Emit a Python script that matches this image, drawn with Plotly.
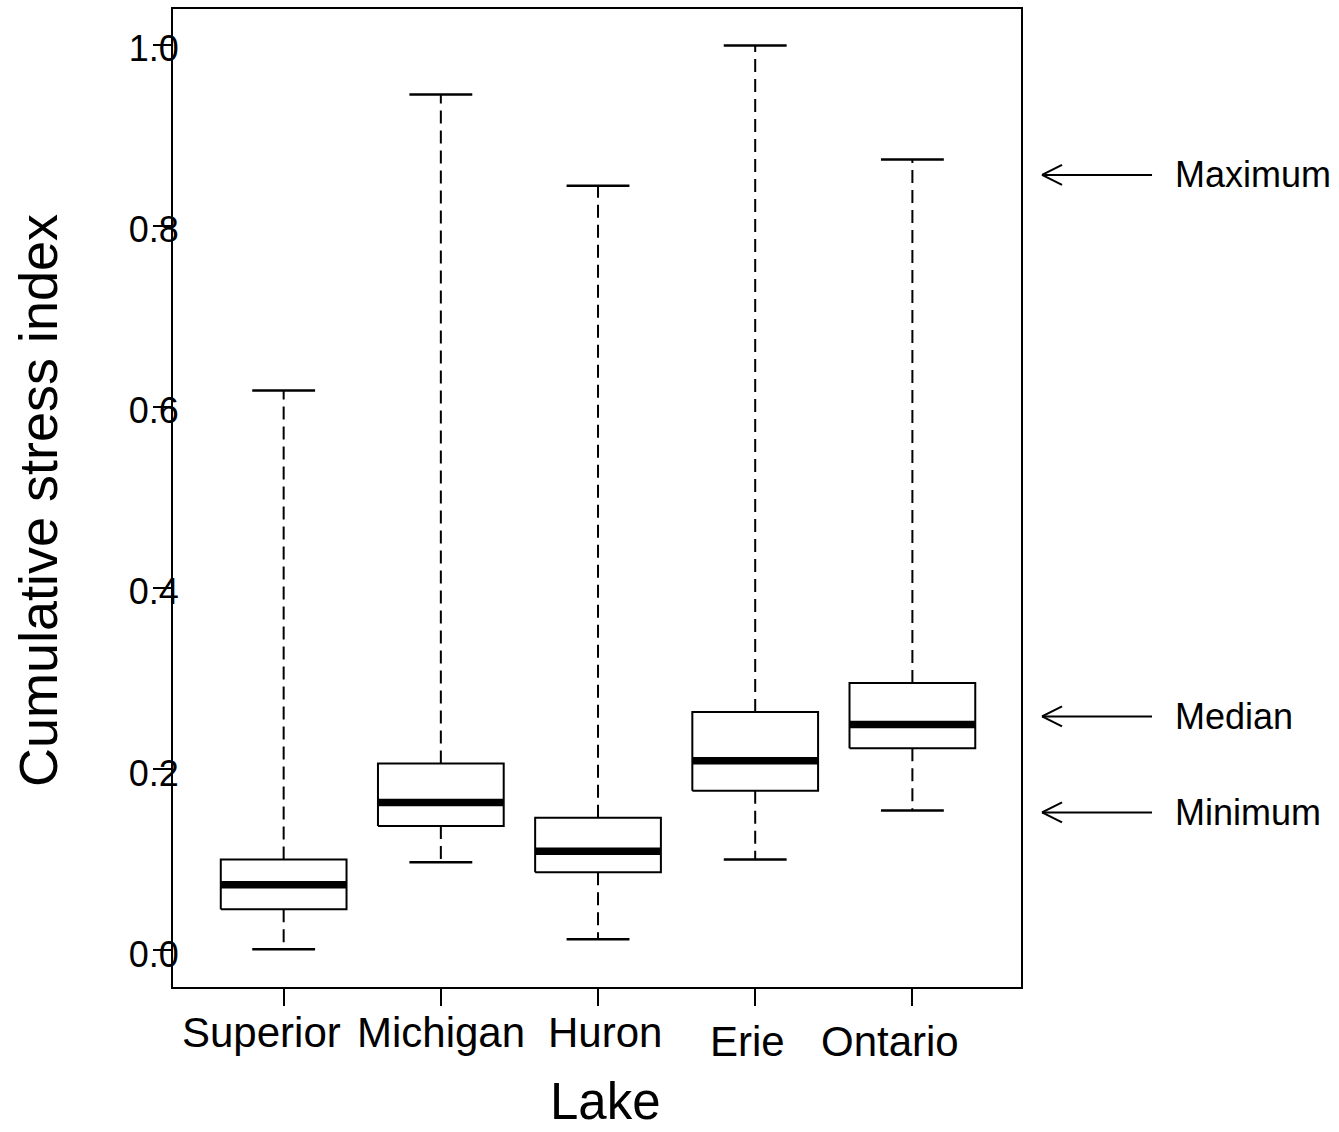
import plotly.graph_objects as go

# Cumulative stress index summary per lake (whisker ends, quartiles, median)
lakes = ["Superior", "Michigan", "Huron", "Erie", "Ontario"]
whisker_min = [0.001, 0.097, 0.012, 0.100, 0.154]
q1 = [0.045, 0.137, 0.086, 0.176, 0.223]
median = [0.072, 0.163, 0.109, 0.209, 0.249]
q3 = [0.100, 0.206, 0.146, 0.263, 0.295]
whisker_max = [0.618, 0.945, 0.844, 0.999, 0.873]

ytick_vals = [0.0, 0.2, 0.4, 0.6, 0.8, 1.0]
ytick_text = ["0.0", "0.2", "0.4", "0.6", "0.8", "1.0"]

# Key on the right: label and the level its arrow points at
key_labels = ["Maximum", "Median", "Minimum"]
key_levels = [0.856, 0.258, 0.152]

FONT = "Liberation Sans, Arial, Helvetica, sans-serif"
BOX_HALF = 0.4
CAP_HALF = 0.2

xpos = list(range(1, len(lakes) + 1))

box_x, box_y = [], []
med_x, med_y = [], []
wh_x, wh_y = [], []
cap_x, cap_y = [], []
for x, lo, a, m, b, hi in zip(xpos, whisker_min, q1, median, q3, whisker_max):
    box_x += [x - BOX_HALF, x + BOX_HALF, x + BOX_HALF, x - BOX_HALF, x - BOX_HALF, None]
    box_y += [a, a, b, b, a, None]
    med_x += [x - BOX_HALF, x + BOX_HALF, None]
    med_y += [m, m, None]
    wh_x += [x, x, None, x, x, None]
    wh_y += [b, hi, None, a, lo, None]
    cap_x += [x - CAP_HALF, x + CAP_HALF, None, x - CAP_HALF, x + CAP_HALF, None]
    cap_y += [hi, hi, None, lo, lo, None]

fig = go.Figure()
fig.add_trace(go.Scatter(x=wh_x, y=wh_y, mode="lines", hoverinfo="skip",
                         line=dict(color="black", width=2, dash="13px,7px")))
fig.add_trace(go.Scatter(x=cap_x, y=cap_y, mode="lines", hoverinfo="skip",
                         line=dict(color="black", width=2.5)))
fig.add_trace(go.Scatter(x=box_x, y=box_y, mode="lines", hoverinfo="skip",
                         line=dict(color="black", width=2)))
fig.add_trace(go.Scatter(x=med_x, y=med_y, mode="lines", hoverinfo="skip",
                         line=dict(color="black", width=7.5)))

annotations = []
# category labels under the x axis (slightly staggered)
label_dx = [-22, 0, 7, -8, -22]
label_y = [-0.047, -0.047, -0.047, -0.056, -0.056]
for x, name, dx, ly in zip(xpos, lakes, label_dx, label_y):
    annotations.append(dict(x=x, xref="x", y=ly, yref="paper", text=name,
                            showarrow=False, xshift=dx, xanchor="center",
                            yanchor="middle", font=dict(size=42, color="black", family=FONT)))

# axis titles
annotations.append(dict(x=-0.159, y=0.497, xref="paper", yref="paper",
                        text="Cumulative stress index", textangle=-90, showarrow=False,
                        xanchor="center", yanchor="middle",
                        font=dict(size=54, color="black", family=FONT)))
annotations.append(dict(x=0.5106, y=-0.1475, xref="paper", yref="paper",
                        text="Lake", showarrow=False, xanchor="center", yanchor="bottom",
                        borderpad=0,
                        font=dict(size=51, color="black", family=FONT)))

# key arrows and labels to the right of the panel
shapes = []
ARROW_TIP = 1.0248
for lab, lev in zip(key_labels, key_levels):
    common = dict(type="line", xref="paper", xsizemode="pixel", xanchor=ARROW_TIP,
                  yref="y", ysizemode="pixel", yanchor=lev,
                  line=dict(color="black", width=2))
    shapes.append(dict(common, x0=0, x1=110, y0=0, y1=0))
    shapes.append(dict(common, x0=0, x1=20, y0=0, y1=10))
    shapes.append(dict(common, x0=0, x1=20, y0=0, y1=-10))
    annotations.append(dict(x=1.179, xref="paper", y=lev, yref="y", text=lab,
                            showarrow=False, xanchor="left", yanchor="middle",
                            font=dict(size=36, color="black", family=FONT)))

fig.update_layout(
    width=1339, height=1132, autosize=False,
    margin=dict(l=173, r=318, t=7, b=145),
    paper_bgcolor="white", plot_bgcolor="white",
    showlegend=False,
    font=dict(family=FONT, color="black"),
    xaxis=dict(range=[0.296, 5.691], tickvals=xpos, ticktext=[""] * len(xpos),
               ticks="outside", ticklen=17, tickwidth=2, tickcolor="black",
               showline=True, mirror=True, linewidth=2, linecolor="black",
               showgrid=False, zeroline=False, fixedrange=True),
    yaxis=dict(range=[-0.0408, 1.0393], tickvals=ytick_vals, ticktext=ytick_text,
               ticks="outside", ticklen=18, tickwidth=2, tickcolor="black",
               ticklabelstandoff=-33, ticklabelshift=4,
               tickfont=dict(size=36, color="black", family=FONT),
               showline=True, mirror=True, linewidth=2, linecolor="black",
               showgrid=False, zeroline=False, fixedrange=True),
    annotations=annotations,
    shapes=shapes,
)

fig.write_html("out.html")
